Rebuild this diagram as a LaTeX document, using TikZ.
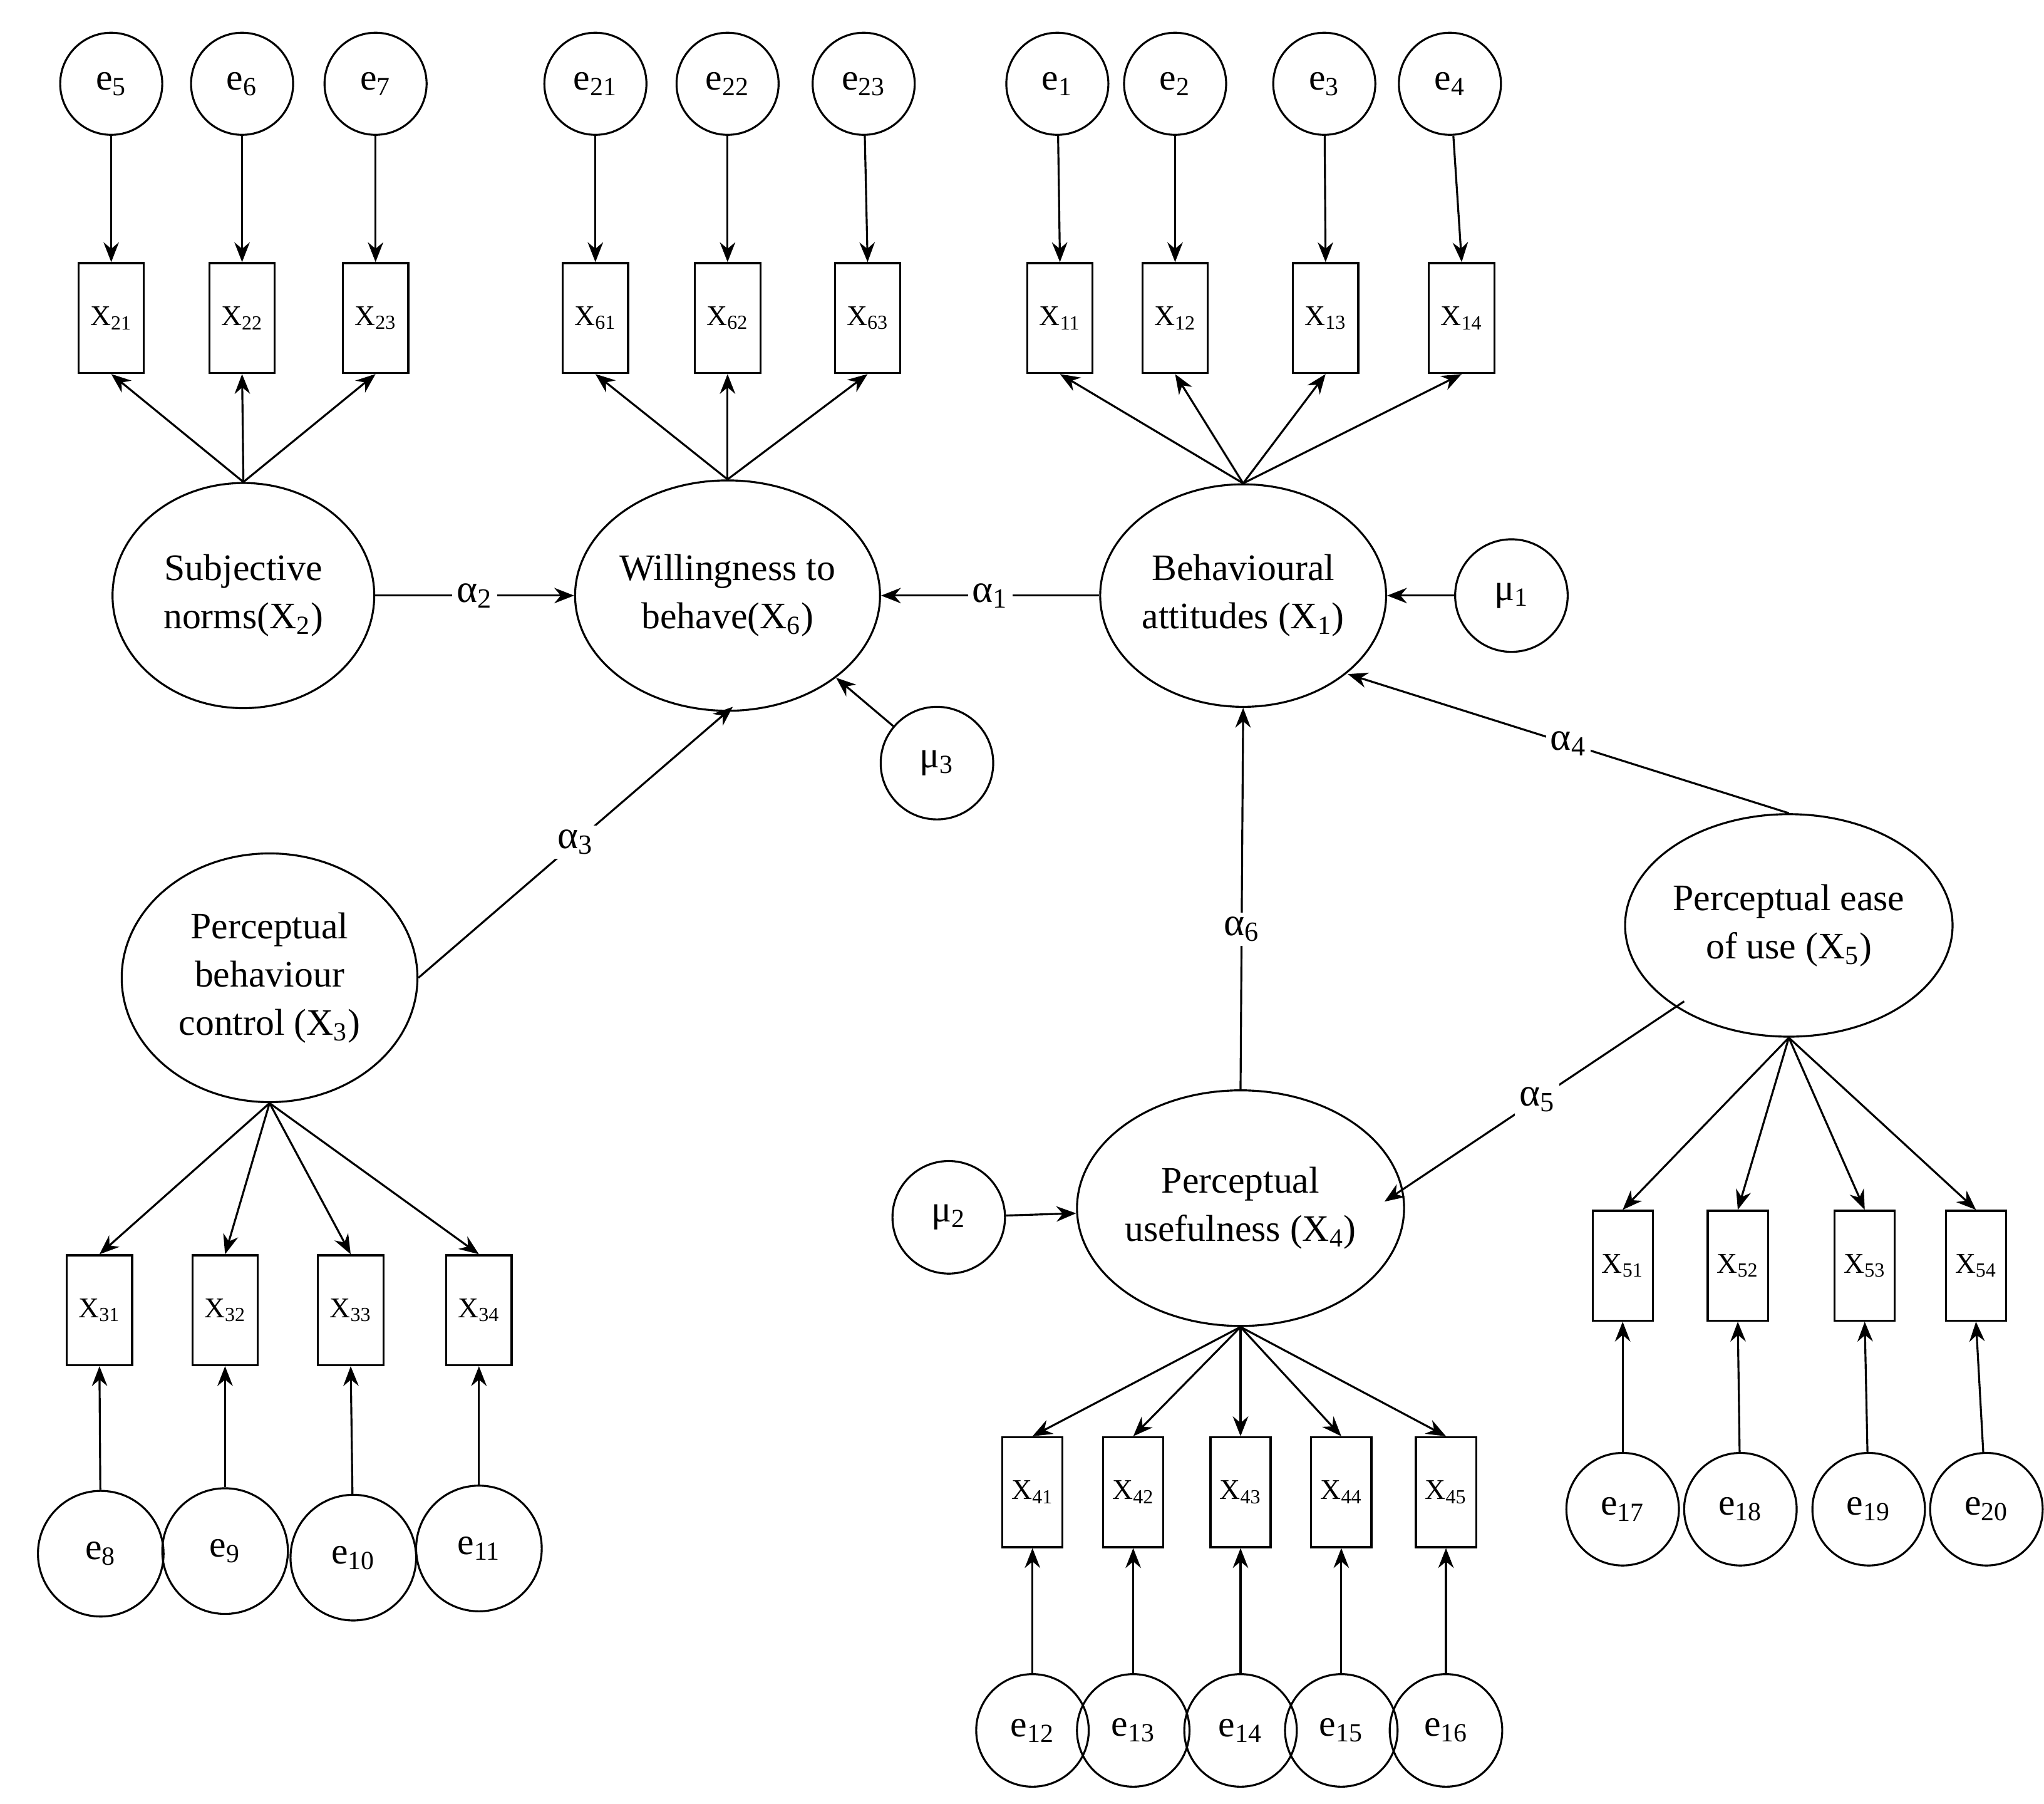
\documentclass[tikz,border=0pt]{standalone}
\usepackage{fontspec}
\setmainfont{Liberation Serif}
\usetikzlibrary{arrows.meta,shapes.geometric}
\begin{document}
\begin{tikzpicture}[x=0.0209cm,y=-0.0209cm,
 arr/.style={-{Stealth[length=9pt,width=7pt]},line width=0.9pt},
 ln/.style={line width=0.9pt},
 ec/.style={circle,draw,line width=0.9pt,minimum size={78*0.0209cm},inner sep=0pt,font=\fontsize{17}{20}\selectfont},
 eb/.style={circle,draw,line width=0.9pt,minimum size={96*0.0209cm},inner sep=0pt,font=\fontsize{17}{20}\selectfont},
 ep/.style={circle,draw,line width=0.9pt,minimum size={86*0.0209cm},inner sep=0pt,font=\fontsize{17}{20}\selectfont},
 bx/.style={rectangle,draw,line width=0.9pt,minimum width={50*0.0209cm},minimum height={84*0.0209cm},inner sep=0pt,font=\fontsize{13}{15}\selectfont},
 lv/.style={ellipse,draw,line width=0.9pt,align=center,inner sep=0pt,font=\fontsize{17}{22}\selectfont},
 al/.style={fill=white,inner sep=2pt,font=\fontsize{18}{20}\selectfont}]
\useasboundingbox (0,0) rectangle (1562,1378);
% latent variables
\node[lv,minimum width={200*0.0209cm},minimum height={172*0.0209cm}] (sn) at (186,455) {Subjective\\norms(X\textsubscript{2})};
\node[lv,minimum width={202*0.0209cm},minimum height={176*0.0209cm}] (wb) at (556,455) {Willingness to\\behave(X\textsubscript{6})};
\node[lv,minimum width={210*0.0209cm},minimum height={170*0.0209cm}] (ba) at (950,455) {Behavioural\\attitudes (X\textsubscript{1})};
\node[lv,minimum width={226*0.0209cm},minimum height={190*0.0209cm}] (pbc) at (206,747) {Perceptual\\behaviour\\control (X\textsubscript{3})};
\node[lv,minimum width={210*0.0209cm},minimum height={170*0.0209cm}] (peu) at (1367,707) {Perceptual ease\\of use (X\textsubscript{5})};
\node[lv,minimum width={210*0.0209cm},minimum height={180*0.0209cm}] (pu) at (948,923) {Perceptual\\usefulness (X\textsubscript{4})};
\node[ep] (m1) at (1155,455) {μ\textsubscript{1}};
\node[ep] (m3) at (716,583) {μ\textsubscript{3}};
\node[ep] (m2) at (725,930) {μ\textsubscript{2}};
% top indicators
\foreach \n/\x/\ex/\lab/\el in {21/85/85/21/5,22/185/185/22/6,23/287/287/23/7,61/455/455/61/21,62/556/556/62/22,63/663/660/63/23,11/810/808/11/1,12/898/898/12/2,13/1013/1012/13/3,14/1117/1108/14/4}{
 \node[bx] (x\n) at (\x,243) {X\textsubscript{\lab}};
 \node[ec] (e\el) at (\ex,64) {e\textsubscript{\el}};
 \draw[arr] (e\el) -- (x\n.north);
}
\foreach \n in {21,22,23}{\draw[arr] (sn.north) -- (x\n.south);}
\foreach \n in {61,62,63}{\draw[arr] (wb.north) -- (x\n.south);}
\foreach \n in {11,12,13,14}{\draw[arr] (ba.north) -- (x\n.south);}
% PBC indicators
\foreach \n/\x/\ex/\ey/\el in {31/76/77/1187/8,32/172/172/1185/9,33/268/270/1190/10,34/366/366/1183/11}{
 \node[bx] (x\n) at (\x,1001) {X\textsubscript{\n}};
 \node[eb] (e\el) at (\ex,\ey) {e\textsubscript{\el}};
 \draw[arr] (e\el) -- (x\n.south);
 \draw[arr] (pbc.south) -- (x\n.north);
}
% PU indicators
\foreach \n/\x/\el in {41/789/12,42/866/13,43/948/14,44/1025/15,45/1105/16}{
 \node[bx,minimum width={46*0.0209cm}] (x\n) at (\x,1140) {X\textsubscript{\n}};
 \node[ep] (e\el) at (\x,1322) {e\textsubscript{\el}};
 \draw[arr] (e\el) -- (x\n.south);
 \draw[arr] (pu.south) -- (x\n.north);
}
% PEU indicators
\foreach \n/\x/\ex/\el in {51/1240/1240/17,52/1328/1330/18,53/1425/1428/19,54/1510/1518/20}{
 \node[bx,minimum width={46*0.0209cm}] (x\n) at (\x,967) {X\textsubscript{\n}};
 \node[ep] (e\el) at (\ex,1153) {e\textsubscript{\el}};
 \draw[arr] (e\el) -- (x\n.south);
 \draw[arr] (peu.south) -- (x\n.north);
}
% structural paths
\draw[arr] (sn) -- node[al]{α\textsubscript{2}} (wb);
\draw[arr] (ba) -- node[al]{α\textsubscript{1}} (wb);
\draw[arr] (m1) -- (ba);
\draw[arr] (m3) -- (wb.south east);
\coordinate (wbs) at (560,540);
\draw[arr] (pbc.east) -- node[al,pos=0.5]{α\textsubscript{3}} (wbs);
\draw[arr] (pu.north) -- node[al,pos=0.42]{α\textsubscript{6}} (ba.south);
\coordinate (bse) at (1030,515);
\draw[arr] (peu.north) -- node[al,pos=0.5]{α\textsubscript{4}} (bse);
\coordinate (peuw) at (1287,765);
\coordinate (pue) at (1058,918);
\draw[arr] (peuw) -- node[al,pos=0.49]{α\textsubscript{5}} (pue);
\draw[arr] (m2) -- (pu);
\end{tikzpicture}
\end{document}
